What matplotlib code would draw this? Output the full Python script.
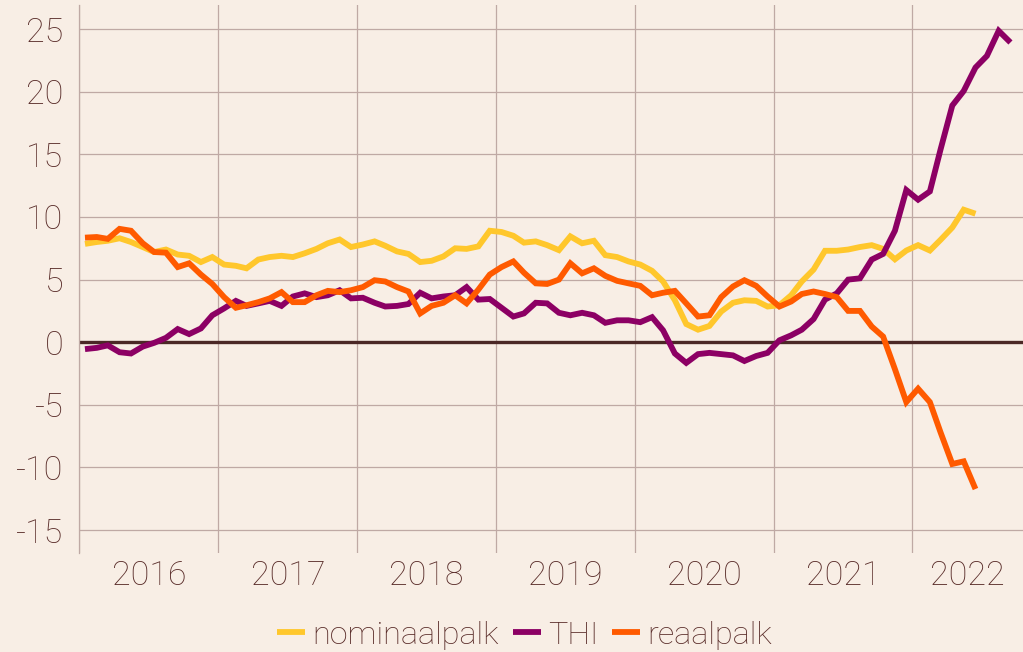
import pandas as pd
import matplotlib
matplotlib.use("Agg")
import matplotlib.pyplot as plt
import matplotlib.dates as mdates
from matplotlib.ticker import FuncFormatter, FixedLocator

# ── Data (monthly, % y/y) ─────────────────────────────────────
nominaalpalk = [7.85, 8.0, 8.1, 8.3, 8.0, 7.6, 7.2, 7.4, 7.0, 6.9,
                6.4, 6.8, 6.2, 6.1, 5.9, 6.6, 6.8, 6.9, 6.8, 7.1,
                7.45, 7.9, 8.2, 7.6, 7.8, 8.05, 7.7, 7.25, 7.05, 6.4,
                6.5, 6.85, 7.5, 7.45, 7.65, 8.9, 8.8, 8.5, 7.95, 8.05,
                7.75, 7.35, 8.45, 7.9, 8.1, 6.95, 6.8, 6.45, 6.2, 5.7,
                4.85, 3.35, 1.45, 1.0, 1.3, 2.45, 3.15, 3.35, 3.3, 2.85,
                2.95, 3.75, 4.85, 5.8, 7.3, 7.3, 7.4, 7.6, 7.75, 7.45,
                6.62, 7.32, 7.75, 7.32, 8.17, 9.16, 10.58, 10.26]
thi = [-0.55, -0.45, -0.25, -0.8, -0.9, -0.35, -0.05, 0.35, 1.05, 0.65,
       1.1, 2.15, 2.7, 3.3, 2.9, 3.1, 3.3, 2.9, 3.65, 3.9,
       3.6, 3.75, 4.15, 3.5, 3.55, 3.15, 2.85, 2.9, 3.05, 3.95,
       3.5, 3.65, 3.75, 4.4, 3.4, 3.45, 2.75, 2.05, 2.3, 3.15,
       3.1, 2.35, 2.15, 2.35, 2.15, 1.55, 1.75, 1.75, 1.6, 2.0,
       0.95, -0.9, -1.65, -0.95, -0.85, -0.95, -1.05, -1.5, -1.1, -0.85,
       0.15, 0.55, 1.0, 1.85, 3.4, 3.9, 5.0, 5.1, 6.6, 7.05,
       8.9, 12.15, 11.38, 12.04, 15.38, 18.9, 20.06, 21.93, 22.86, 24.86,
       23.93]
reaalpalk = [8.35, 8.4, 8.25, 9.05, 8.9, 7.9, 7.2, 7.15, 6.0, 6.3,
             5.4, 4.65, 3.6, 2.75, 2.95, 3.2, 3.5, 4.0, 3.2, 3.2,
             3.75, 4.1, 4.0, 4.15, 4.4, 4.95, 4.85, 4.4, 4.05, 2.3,
             2.9, 3.15, 3.75, 3.1, 4.2, 5.4, 6.0, 6.45, 5.55, 4.7,
             4.65, 5.0, 6.3, 5.5, 5.9, 5.3, 4.9, 4.7, 4.5, 3.75,
             3.95, 4.1, 3.1, 2.05, 2.15, 3.6, 4.45, 4.95, 4.5, 3.65,
             2.85, 3.25, 3.85, 4.05, 3.85, 3.6, 2.5, 2.5, 1.25, 0.45,
             -2.15, -4.78, -3.71, -4.78, -7.19, -9.72, -9.51, -11.72]
years = [2016, 2017, 2018, 2019, 2020, 2021, 2022]

months = pd.date_range("2016-01-01", periods=len(thi), freq="MS") + pd.Timedelta(days=15)

BG    = "#F8EEE5"
TEXT  = "#5A2D2A"
GRID  = "#BFA9A4"
ZERO  = "#4B2826"
C_NOM = "#FFC72C"
C_THI = "#8C0064"
C_REA = "#FF5A00"

plt.rcParams.update({
    "font.family": ["Roboto", "DejaVu Sans"],
    "font.weight": "light",
    "axes.unicode_minus": False,
})

fig = plt.figure(figsize=(10.23, 6.52), dpi=100, facecolor=BG)
ax = fig.add_axes([0.0775, 0.1518, 0.9225, 0.8401], facecolor=BG)

ax.plot(months[:len(nominaalpalk)], nominaalpalk, color=C_NOM, lw=4.2,
        label="nominaalpalk", zorder=3, solid_joinstyle="miter", solid_capstyle="butt")
ax.plot(months, thi, color=C_THI, lw=4.2, label="THI", zorder=4,
        solid_joinstyle="miter", solid_capstyle="butt")
ax.plot(months[:len(reaalpalk)], reaalpalk, color=C_REA, lw=4.2,
        label="reaalpalk", zorder=5, solid_joinstyle="miter", solid_capstyle="butt")
ax.axhline(0, color=ZERO, lw=2.4, zorder=2)

x_end = pd.Timestamp("2022-10-19")
ax.set_xlim(pd.Timestamp("2016-01-01"), x_end)
ax.set_ylim(-16.83, 26.9)
ax.set_yticks(range(-15, 26, 5))
ax.yaxis.set_major_formatter(FuncFormatter(lambda v, p: f"{v:.0f}"))

# gridlines at year starts, labels centred on the visible part of each year
ax.xaxis.set_major_locator(mdates.YearLocator())
ax.xaxis.set_major_formatter(plt.NullFormatter())
label_pos = []
for y in years:
    a = pd.Timestamp(f"{y}-01-01")
    b = min(pd.Timestamp(f"{y + 1}-01-01"), x_end)
    label_pos.append(mdates.date2num(a + (b - a) / 2))
ax.xaxis.set_minor_locator(FixedLocator(label_pos))
ax.xaxis.set_minor_formatter(FuncFormatter(lambda v, p: str(years[p]) if p is not None and p < len(years) else ""))

ax.grid(True, which="major", color=GRID, lw=0.9, zorder=1)
ax.tick_params(axis="both", which="both", length=0, colors=TEXT, labelsize=24.5)
ax.tick_params(axis="y", pad=11.5)
ax.tick_params(axis="x", which="minor", pad=5)

for s in ["top", "right", "bottom"]:
    ax.spines[s].set_visible(False)
ax.spines["left"].set_color(GRID)
ax.spines["left"].set_linewidth(0.9)

fig.legend(loc="center", bbox_to_anchor=(0.5127, 0.026), ncol=3, frameon=False,
           fontsize=23.3, labelcolor=TEXT, handlelength=0.86, handletextpad=0.22,
           columnspacing=0.44, borderpad=0, borderaxespad=0)

fig.savefig("out.png", dpi=100, facecolor=BG)
